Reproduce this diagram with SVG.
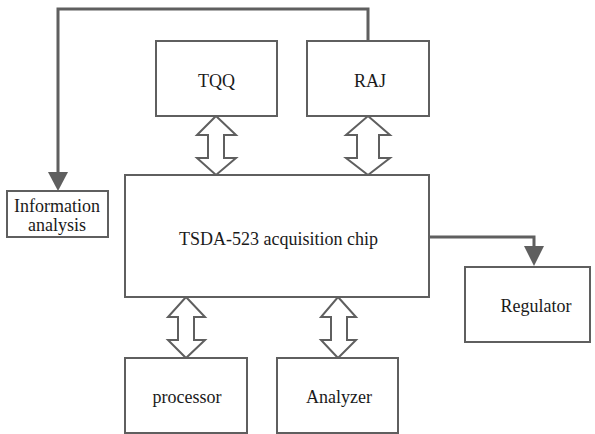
<svg xmlns="http://www.w3.org/2000/svg" width="595" height="434" viewBox="0 0 595 434">
<defs>
<style>
.box{fill:#fff;stroke:#5f5f5f;stroke-width:2}
.t{font-family:"Liberation Serif","DejaVu Serif","Times New Roman",serif;font-size:18px;fill:#1a1a1a;text-anchor:middle}
.ln{fill:none;stroke:#5f5f5f;stroke-width:3}
.ah{fill:#5f5f5f}
.dbl{fill:#fff;stroke:#5f5f5f;stroke-width:2;stroke-linejoin:miter}
</style>
</defs>
<g id="connectors">
<path class="ln" d="M368,41 V9 H58 V175"/>
<path class="ah" d="M48,172 L68,172 L58,191 Z"/>
<path class="ln" d="M429,237 H534 V250"/>
<path class="ah" d="M524,246 L544,246 L534,266 Z"/>
<path class="dbl" d="M216,116 L236,135 H224 V158 H236 L216,175 L197,158 H208 V135 H197 Z"/>
<path class="dbl" d="M368,116 L390,135 H379 V158 H390 L368,175 L346,158 H357 V135 H346 Z"/>
<path class="dbl" d="M186,297 L205,317 H194 V340 H205 L186,358 L168,340 H178 V317 H168 Z"/>
<path class="dbl" d="M338,297 L356,317 H347 V340 H356 L338,358 L321,340 H331 V317 H321 Z"/>
</g>
<g id="tqq"><rect class="box" x="156" y="41" width="121" height="75"/><text class="t" x="216.5" y="87">TQQ</text></g>
<g id="raj"><rect class="box" x="307" y="41" width="122" height="75"/><text class="t" x="370" y="87">RAJ</text></g>
<g id="info"><rect class="box" x="7" y="191" width="101" height="46"/><text class="t" x="57" y="212">Information</text><text class="t" x="57" y="231">analysis</text></g>
<g id="chip"><rect class="box" x="125" y="175" width="304" height="122"/><text class="t" x="278.5" y="245">TSDA-523 acquisition chip</text></g>
<g id="regulator"><rect class="box" x="465" y="267" width="125" height="75"/><text class="t" x="536" y="312">Regulator</text></g>
<g id="processor"><rect class="box" x="125" y="358" width="122" height="75"/><text class="t" x="187" y="403">processor</text></g>
<g id="analyzer"><rect class="box" x="277" y="358" width="121" height="75"/><text class="t" x="339" y="403">Analyzer</text></g>
</svg>
